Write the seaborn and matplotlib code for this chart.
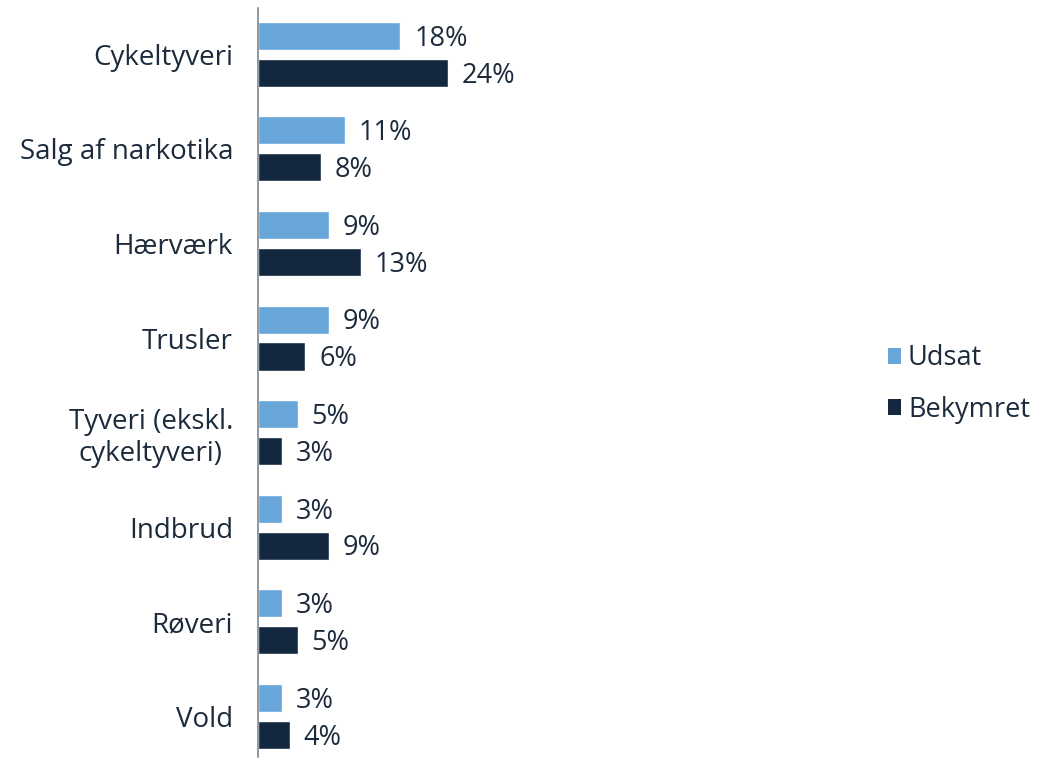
import matplotlib
matplotlib.use("Agg")
import matplotlib.pyplot as plt
import seaborn as sns
import pandas as pd
from matplotlib.patches import Patch

categories = ["Cykeltyveri", "Salg af narkotika", "Hærværk", "Trusler",
              "Tyveri (ekskl.\ncykeltyveri)", "Indbrud", "Røveri", "Vold"]
udsat = [18, 11, 9, 9, 5, 3, 3, 3]
bekymret = [24, 8, 13, 6, 3, 9, 5, 4]
series = ["Udsat", "Bekymret"]
colors = ["#68A6DA", "#13283E"]
text_color = "#1C2B3C"

df = pd.DataFrame({
    "kategori": categories * 2,
    "andel": udsat + bekymret,
    "serie": [series[0]] * len(categories) + [series[1]] * len(categories),
})

sns.set_theme(style="white")
plt.rcParams["font.family"] = ["Open Sans", "DejaVu Sans"]

fig = plt.figure(figsize=(10.6, 7.59), dpi=100)
ax = fig.add_axes([258 / 1060, 2 / 759, 592 / 1060, 749 / 759])

sns.barplot(data=df, y="kategori", x="andel", hue="serie", orient="h",
            palette=colors, width=0.78, gap=0.24, saturation=1,
            legend=False, ax=ax)

for cont in ax.containers:
    texts = ax.bar_label(cont, labels=[f"{v:.0f}%" for v in cont.datavalues],
                         padding=10, fontsize=19.5, color=text_color)
    for t in texts:
        t.xyann = (10, -2)

ax.set_xlim(0, 592 / 7.9)
ax.set_ylim(len(categories) - 1 + 0.43, -0.49)
ax.set_xlabel("")
ax.set_ylabel("")
ax.set_xticks([])
ax.tick_params(axis="y", length=0, pad=18, labelsize=20, labelcolor=text_color)
for lab in ax.get_yticklabels():
    lab.set_multialignment("center")

for side in ["top", "right", "bottom"]:
    ax.spines[side].set_visible(False)
ax.spines["left"].set_color("#7D8894")
ax.spines["left"].set_linewidth(1.2)

handles = [Patch(facecolor=c, edgecolor="none") for c in colors]
fig.legend(handles, series, loc="center left",
           bbox_to_anchor=(866 / 1060, 1 - 384 / 759), frameon=False,
           fontsize=19.5, labelcolor=text_color, handlelength=0.5,
           handleheight=0.5, handletextpad=0.25, labelspacing=0.85,
           borderpad=0.3)

fig.savefig("out.png", dpi=100)
